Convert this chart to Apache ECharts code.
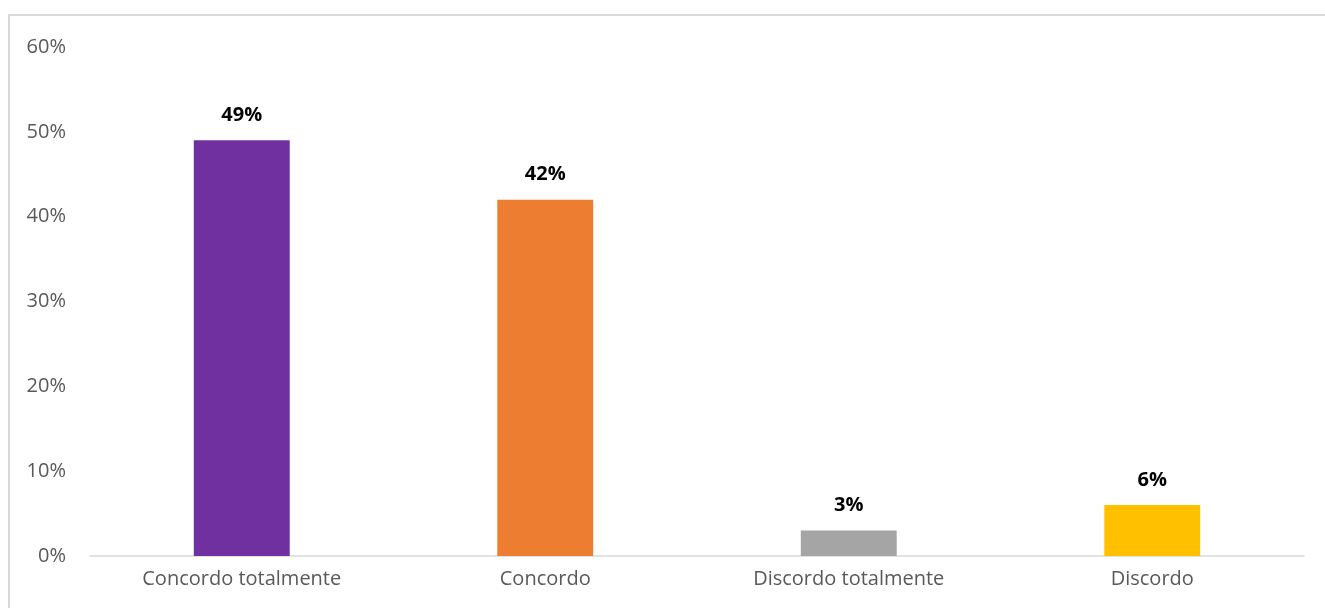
<!DOCTYPE html>
<html>
<head>
	<meta charset="UTF-8">
	<title>Concordância</title>
	<script src="https://cdn.jsdelivr.net/npm/echarts@6/dist/echarts.min.js"></script>
	<style>
		body { margin: 0; background: #fff; }
		#frame { position: absolute; left: 8px; top: 14px; width: 1330px; height: 600px;
			border-left: 2px solid #d9d9d9; border-top: 2px solid #d9d9d9; }
		#container { position: absolute; left: 0; top: 0; width: 1325px; height: 608px; }
	</style>
</head>
<body>
	<div id="frame"></div>
	<div id="container"></div>
	<script type="text/javascript">
		// categorias e valores (%)
		var categories = ['Concordo totalmente', 'Concordo', 'Discordo totalmente', 'Discordo'];
		var values = [49, 42, 3, 6];
		var barColors = ['#7030A0', '#ED7D31', '#A5A5A5', '#FFC000'];

		var myChart = echarts.init(document.getElementById('container'));
		var option = {
			textStyle: { fontFamily: 'Open Sans' },
			grid: { left: 90, right: 21, top: 47, bottom: 52 },
			xAxis: {
				type: 'category',
				data: categories,
				axisLine: { lineStyle: { color: '#d9d9d9', width: 1.5 } },
				axisTick: { show: false },
				axisLabel: { color: '#595959', fontSize: 20, margin: 13 }
			},
			yAxis: {
				type: 'value',
				min: 0,
				max: 60,
				interval: 10,
				axisLine: { show: false },
				axisTick: { show: false },
				splitLine: { show: false },
				axisLabel: { color: '#595959', fontSize: 20, margin: 24, formatter: '{value}%' }
			},
			series: [{
				type: 'bar',
				barWidth: '31.6%',
				data: values.map(function (v, i) {
					return { value: v, itemStyle: { color: barColors[i] } };
				}),
				label: {
					show: true,
					position: 'top',
					distance: 15,
					color: '#000',
					fontWeight: 'bold',
					fontSize: 20,
					formatter: '{c}%'
				}
			}]
		};
		myChart.setOption(option);
	</script>
</body>
</html>
